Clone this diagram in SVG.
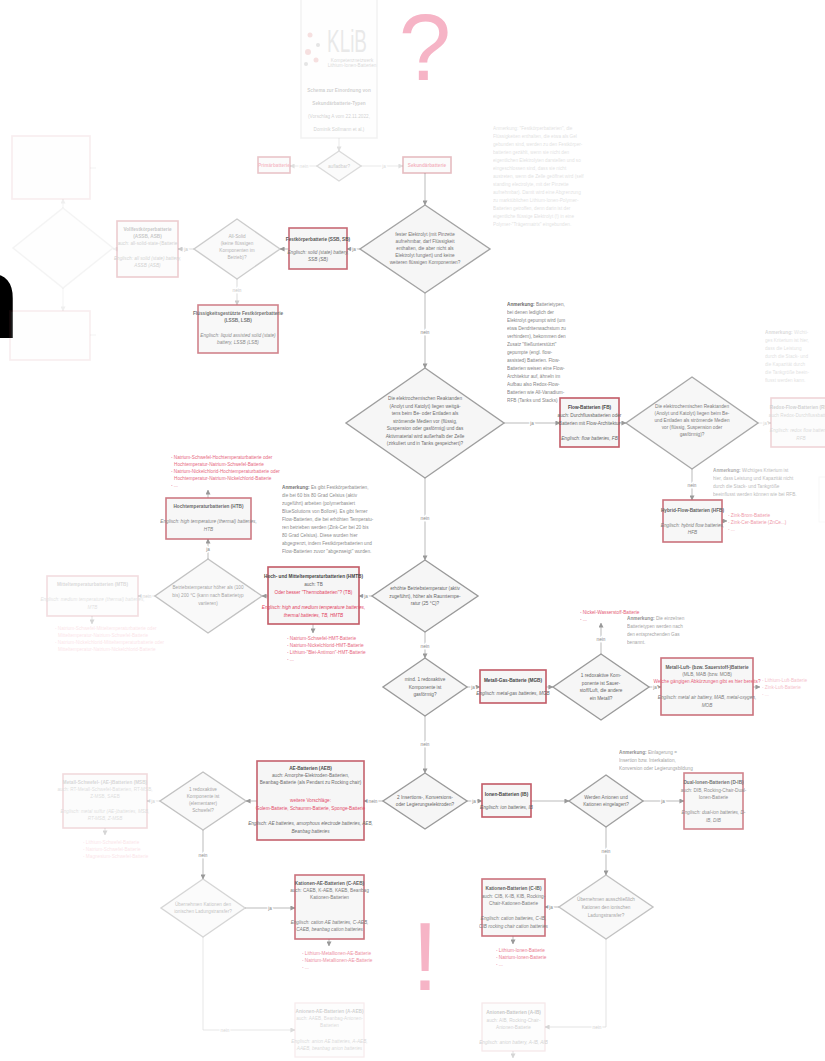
<svg xmlns="http://www.w3.org/2000/svg" width="825" height="1061" viewBox="0 0 825 1061">
<defs>
<marker id="ah" viewBox="0 0 6 6" refX="5.5" refY="3" markerWidth="5" markerHeight="5" orient="auto" markerUnits="userSpaceOnUse">
<path d="M0,0 L6,3 L0,6 z" fill="#999"/>
</marker>
<style>
.bx{fill:#f6f6f6;stroke:#c25a66;stroke-width:1.6}
.bf{fill:#fbfbfb;stroke:#e2b0b6;stroke-width:1.2}
.dm{fill:#f6f6f6;stroke:#9a9a9a;stroke-width:1.4}
.ln{stroke:#aaa;stroke-width:0.8;fill:none}
.t{font-family:"Liberation Sans Narrow","Liberation Sans",sans-serif;font-size:4.7px;fill:#666;text-anchor:middle}
.b{font-weight:bold;fill:#444}
.i{font-style:italic}
.r{fill:#e2415e}
.s{text-anchor:start}
.lab{font-family:"Liberation Sans Narrow","Liberation Sans",sans-serif;font-size:4.7px;fill:#888;text-anchor:middle;stroke:#fff;stroke-width:2.5px;paint-order:stroke}
.big{font-family:"Liberation Sans",sans-serif;fill:#f6b4c6;text-anchor:middle}
</style>
</defs>
<rect width="825" height="1061" fill="#fff"/>

<text id="bigN" x="-52" y="338" font-family="Liberation Sans, sans-serif" font-weight="bold" font-size="118" fill="#000">n</text>
<text id="question" class="big" x="425" y="80" font-size="94">?</text>
<text id="exclaim" class="big" x="425" y="990" font-size="96">!</text>

<g id="connectors">
<g opacity="0.3">
<path class="ln" d="M339,138 V151" marker-end="url(#ah)"/>
<path class="ln" d="M317,166 H290" marker-end="url(#ah)"/>
<path class="ln" d="M361,166 H403" marker-end="url(#ah)"/>
<text class="lab" x="304" y="168">nein</text>
<text class="lab" x="384" y="168">ja</text>
</g>
<path class="ln" d="M425,173 V205" marker-end="url(#ah)"/>
<path class="ln" d="M360,249 H347" marker-end="url(#ah)"/>
<text class="lab" x="354" y="251">ja</text>
<path class="ln" d="M289,249 H280" marker-end="url(#ah)"/>
<g opacity="0.5">
<path class="ln" d="M194,249 H178" marker-end="url(#ah)"/>
<text class="lab" x="186" y="251">ja</text>
<path class="ln" d="M237,279 V305" marker-end="url(#ah)"/>
<text class="lab" x="237" y="292">nein</text>
</g>
<g opacity="0.15">
<path class="ln" d="M117,249 H113" marker-end="url(#ah)"/>
<path class="ln" d="M63,208 V199" marker-end="url(#ah)"/>
<path class="ln" d="M63,288 V311" marker-end="url(#ah)"/>
<path class="ln" d="M90,168 H96"/>
<path class="ln" d="M90,335 H96"/>
</g>
<path class="ln" d="M425,293 V368" marker-end="url(#ah)"/>
<text class="lab" x="425" y="334">nein</text>
<path class="ln" d="M504,423 H560" marker-end="url(#ah)"/>
<text class="lab" x="532" y="425">ja</text>
<path class="ln" d="M619,423 H626" marker-end="url(#ah)"/>
<g opacity="0.35">
<path class="ln" d="M758,423 H771" marker-end="url(#ah)"/>
<text class="lab" x="765" y="425">ja</text>
</g>
<path class="ln" d="M692,469 V500" marker-end="url(#ah)"/>
<text class="lab" x="692" y="487">nein</text>
<path class="ln" d="M722,521 H727" marker-end="url(#ah)"/>
<path class="ln" d="M425,478 V560" marker-end="url(#ah)"/>
<text class="lab" x="425" y="520">nein</text>
<path class="ln" d="M372,596 H359" marker-end="url(#ah)"/>
<text class="lab" x="366" y="598">ja</text>
<path class="ln" d="M313,624 V633" marker-end="url(#ah)"/>
<path class="ln" d="M268,596 H262" marker-end="url(#ah)"/>
<path class="ln" d="M208,559 V539" marker-end="url(#ah)"/>
<text class="lab" x="208" y="551">ja</text>
<path class="ln" d="M208,498 V490" marker-end="url(#ah)"/>
<g opacity="0.4">
<path class="ln" d="M155,596 H138" marker-end="url(#ah)"/>
<text class="lab" x="147" y="598">nein</text>
<path class="ln" d="M92,616 V624" marker-end="url(#ah)"/>
</g>
<path class="ln" d="M425,632 V658" marker-end="url(#ah)"/>
<text class="lab" x="425" y="648">nein</text>
<path class="ln" d="M467,687 H480" marker-end="url(#ah)"/>
<text class="lab" x="473" y="689">ja</text>
<path class="ln" d="M546,687 H553" marker-end="url(#ah)"/>
<path class="ln" d="M601,654 V623" marker-end="url(#ah)"/>
<text class="lab" x="601" y="641">nein</text>
<path class="ln" d="M649,687 H661" marker-end="url(#ah)"/>
<text class="lab" x="655" y="689">ja</text>
<path class="ln" d="M753,687 H760" marker-end="url(#ah)"/>
<path class="ln" d="M425,716 V773" marker-end="url(#ah)"/>
<text class="lab" x="425" y="746">nein</text>
<path class="ln" d="M467,801 H482" marker-end="url(#ah)"/>
<text class="lab" x="474" y="803">ja</text>
<path class="ln" d="M531,801 H569" marker-end="url(#ah)"/>
<path class="ln" d="M643,801 H684" marker-end="url(#ah)"/>
<text class="lab" x="663" y="803">ja</text>
<path class="ln" d="M606,827 V875" marker-end="url(#ah)"/>
<text class="lab" x="606" y="853">nein</text>
<path class="ln" d="M559,907 H545" marker-end="url(#ah)"/>
<text class="lab" x="551" y="909">ja</text>
<path class="ln" d="M513,936 V944" marker-end="url(#ah)"/>
<g opacity="0.4">
<path class="ln" d="M606,939 V1027 H545" marker-end="url(#ah)"/>
<text class="lab" x="597" y="1029">nein</text>
<path class="ln" d="M513,1051 V1058" marker-end="url(#ah)"/>
</g>
<path class="ln" d="M383,801 H364" marker-end="url(#ah)"/>
<text class="lab" x="373" y="803">nein</text>
<path class="ln" d="M257,801 H246" marker-end="url(#ah)"/>
<g opacity="0.4">
<path class="ln" d="M160,801 H147" marker-end="url(#ah)"/>
<text class="lab" x="153" y="803">ja</text>
<path class="ln" d="M105,828 V835" marker-end="url(#ah)"/>
</g>
<path class="ln" d="M203,830 V879" marker-end="url(#ah)"/>
<text class="lab" x="203" y="857">nein</text>
<path class="ln" d="M245,908 H295" marker-end="url(#ah)"/>
<text class="lab" x="270" y="910">ja</text>
<path class="ln" d="M329,939 V946" marker-end="url(#ah)"/>
<g opacity="0.35">
<path class="ln" d="M203,937 V1030 H295" marker-end="url(#ah)"/>
<text class="lab" x="225" y="1032">nein</text>
</g>
</g>

<g id="klib" opacity="0.25">
<rect x="301" y="-5" width="76" height="143" fill="#fdfdfd" stroke="#ccc" stroke-width="1.5"/>
<circle cx="310" cy="35" r="2.5" fill="#d88"/>
<circle cx="318" cy="45" r="2" fill="#999"/>
<circle cx="308" cy="52" r="3" fill="#d88"/>
<circle cx="316" cy="60" r="2.5" fill="#d88"/>
<circle cx="306" cy="64" r="2" fill="#999"/>
<text x="327" y="52" font-family="Liberation Sans, sans-serif" font-size="32" fill="#aaa" textLength="40" lengthAdjust="spacingAndGlyphs">KLiB</text>
<text class="t" x="352" y="62" font-size="3.5">Kompetenznetzwerk</text>
<text class="t" x="352" y="67" font-size="3.5">Lithium-Ionen-Batterien</text>
<text class="t b" font-size="7.5px" x="339"><tspan x="339" y="92">Schema zur Einordnung von</tspan><tspan x="339" y="105">Sekundärbatterie-Typen</tspan><tspan x="339" y="118" font-weight="normal">(Vorschlag A vom 22.11.2022,</tspan><tspan x="339" y="131" font-weight="normal">Dominik Sollmann et al.)</tspan></text>
</g>

<g id="aufladbar" opacity="0.35">
<polygon class="dm" points="339,151 361,166 339,181 317,166"/>
<text class="t" x="339" y="168">aufladbar?</text>
</g>
<g id="primaer" opacity="0.35">
<rect class="bx" x="258" y="157" width="32" height="16"/>
<text class="t b r" x="274" y="167">Primärbatterie</text>
</g>
<g id="sekundaer" opacity="0.4">
<rect class="bx" x="403" y="157" width="48" height="16"/>
<text class="t b r" x="427" y="167">Sekundärbatterie</text>
</g>

<g id="anm-top" opacity="0.2">
<text class="t s" x="493"><tspan x="493" y="130">Anmerkung: "Festkörperbatterien", die</tspan><tspan x="493" y="138">Flüssigkeiten enthalten, die etwa als Gel</tspan><tspan x="493" y="146">gebunden sind, werden zu den Festkörper-</tspan><tspan x="493" y="154">batterien gezählt, wenn sie nicht den</tspan><tspan x="493" y="162">eigentlichen Elektrolyten darstellen und so</tspan><tspan x="493" y="170">eingeschlossen sind, dass sie nicht</tspan><tspan x="493" y="178">austreten, wenn die Zelle geöffnet wird (self</tspan><tspan x="493" y="186">standing electrolyte, mit der Pinzette</tspan><tspan x="493" y="194">aufnehmbar). Damit wird eine Abgrenzung</tspan><tspan x="493" y="202">zu marktüblichen Lithium-Ionen-Polymer-</tspan><tspan x="493" y="210">Batterien getroffen, denn darin ist der</tspan><tspan x="493" y="218">eigentliche flüssige Elektrolyt (!) in eine</tspan><tspan x="493" y="226">Polymer-"Trägermatrix" eingebunden.</tspan></text>
</g>

<g id="d-fest" opacity="0.9">
<polygon class="dm" points="425,205 490,249 425,293 360,249"/>
<text class="t"><tspan x="425" y="236">fester Elektrolyt (mit Pinzette</tspan><tspan x="425" y="243">aufnehmbar, darf Flüssigkeit</tspan><tspan x="425" y="250">enthalten, die aber nicht als</tspan><tspan x="425" y="257">Elektrolyt fungiert) und keine</tspan><tspan x="425" y="264">weiteren flüssigen Komponenten?</tspan></text>
</g>

<g id="festkoerper" opacity="0.9">
<rect class="bx" x="289" y="228" width="58" height="41"/>
<text class="t"><tspan class="b" x="318" y="241">Festkörperbatterie (SSB, SB)</tspan><tspan class="i" x="318" y="254">Englisch: solid (state) battery,</tspan><tspan class="i" x="318" y="261">SSB (SB)</tspan></text>
</g>

<g id="d-allsolid" opacity="0.5">
<polygon class="dm" points="237,219 280,249 237,279 194,249"/>
<text class="t"><tspan x="237" y="238">All-Solid</tspan><tspan x="237" y="245">(keine flüssigen</tspan><tspan x="237" y="252">Komponenten im</tspan><tspan x="237" y="259">Betrieb)?</tspan></text>
</g>

<g id="fluessig" opacity="0.75">
<rect class="bx" x="198" y="305" width="80" height="48"/>
<text class="t"><tspan class="b" x="238" y="315">Flüssigkeitsgestützte Festkörperbatterie</tspan><tspan class="b" x="238" y="322">(LSSB, LSB)</tspan><tspan class="i" x="238" y="337">Englisch: liquid assisted solid (state)</tspan><tspan class="i" x="238" y="344">battery, LSSB (LSB)</tspan></text>
</g>

<g id="vollfest" opacity="0.3">
<rect class="bx" x="117" y="221" width="61" height="56"/>
<text class="t"><tspan class="b" x="147.5" y="231">Vollfestkörperbatterie</tspan><tspan class="b" x="147.5" y="238">(ASSB, ASB)</tspan><tspan x="147.5" y="245">auch: all-solid-state-(Batterie</tspan><tspan class="i" x="147.5" y="260">Englisch: all solid (state) battery,</tspan><tspan class="i" x="147.5" y="267">ASSB (ASB)</tspan></text>
</g>

<g id="left-top-faded" opacity="0.1">
<rect class="bx" x="12" y="136" width="78" height="63"/>
<polygon class="dm" points="63,208 113,248 63,288 13,248"/>
<rect class="bx" x="10" y="311" width="80" height="49"/>
</g>

<g id="d-flow" opacity="0.95">
<polygon class="dm" points="425,368 504,423 425,478 346,423"/>
<text class="t"><tspan x="425" y="400">Die elektrochemischen Reaktanden</tspan><tspan x="425" y="407.5">(Anolyt und Katolyt) liegen weitgä-</tspan><tspan x="425" y="415">tens beim Be- oder Entladen als</tspan><tspan x="425" y="422.5">strömende Medien vor (flüssig,</tspan><tspan x="425" y="430">Suspension oder gasförmig) und das</tspan><tspan x="425" y="437.5">Aktivmaterial wird außerhalb der Zelle</tspan><tspan x="425" y="445">(zirkuliert und in Tanks gespeichert)?</tspan></text>
</g>

<g id="anm-flow" opacity="0.8">
<text class="t s"><tspan x="507" y="306"><tspan class="b">Anmerkung:</tspan> Batterietypen,</tspan><tspan x="507" y="314">bei denen lediglich der</tspan><tspan x="507" y="322">Elektrolyt gepumpt wird (um</tspan><tspan x="507" y="330">etwa Dendritenwachstum zu</tspan><tspan x="507" y="338">verhindern), bekommen den</tspan><tspan x="507" y="346">Zusatz "fließunterstützt"</tspan><tspan x="507" y="354">gepumpte (engl. flow-</tspan><tspan x="507" y="362">assisted) Batterien. Flow-</tspan><tspan x="507" y="370">Batterien weisen eine Flow-</tspan><tspan x="507" y="378">Architektur auf, ähneln im</tspan><tspan x="507" y="386">Aufbau also Redox-Flow-</tspan><tspan x="507" y="394">Batterien wie All-Vanadium-</tspan><tspan x="507" y="402">RFB (Tanks und Stacks)</tspan></text>
</g>

<g id="flowbat">
<rect class="bx" x="560" y="398" width="59" height="49"/>
<text class="t"><tspan class="b" x="589.5" y="409">Flow-Batterien (FB)</tspan><tspan x="589.5" y="417">auch: Durchflussbatterien oder</tspan><tspan x="589.5" y="425">Batterien mit Flow-Architektur</tspan><tspan class="i" x="589.5" y="440">Englisch: flow batteries, FB</tspan></text>
</g>

<g id="d-redox" opacity="0.85">
<polygon class="dm" points="692,377 758,423 692,469 626,423"/>
<text class="t"><tspan x="692" y="408">Die elektrochemischen Reaktanden</tspan><tspan x="692" y="415">(Anolyt und Katolyt) liegen beim Be-</tspan><tspan x="692" y="422">und Entladen als strömende Medien</tspan><tspan x="692" y="429">vor (flüssig, Suspension oder</tspan><tspan x="692" y="436">gasförmig)?</tspan></text>
</g>

<g id="redoxflow" opacity="0.25">
<rect class="bx" x="771" y="398" width="60" height="49"/>
<text class="t"><tspan class="b" x="801" y="409">Redox-Flow-Batterien (RFB)</tspan><tspan x="801" y="417">auch Redox-Durchflussbatterie</tspan><tspan class="i" x="801" y="432">Englisch: redox flow batteries,</tspan><tspan class="i" x="801" y="440">RFB</tspan></text>
</g>
<g id="anm-redox" opacity="0.2">
<text class="t s"><tspan x="765" y="334"><tspan class="b">Anmerkung:</tspan> Wichti-</tspan><tspan x="765" y="342">ges Kriterium ist hier,</tspan><tspan x="765" y="350">dass die Leistung</tspan><tspan x="765" y="358">durch die Stack- und</tspan><tspan x="765" y="366">die Kapazität durch</tspan><tspan x="765" y="374">die Tankgröße beein-</tspan><tspan x="765" y="382">flusst werden kann.</tspan></text>
<rect x="819" y="477" width="20" height="45" fill="none" stroke="#ddd"/>
</g>

<g id="anm-hybrid" opacity="0.45">
<text class="t s"><tspan x="713" y="472"><tspan class="b">Anmerkung:</tspan> Wichtiges Kriterium ist</tspan><tspan x="713" y="480">hier, dass Leistung und Kapazität nicht</tspan><tspan x="713" y="488">durch die Stack- und Tankgröße</tspan><tspan x="713" y="496">beeinflusst werden können wie bei RFB.</tspan></text>
</g>
<g id="hybrid" opacity="0.85">
<rect class="bx" x="663" y="500" width="59" height="42"/>
<text class="t"><tspan class="b" x="692.5" y="512">Hybrid-Flow-Batterien (HFB)</tspan><tspan class="i" x="692.5" y="527">Englisch: hybrid flow batteries,</tspan><tspan class="i" x="692.5" y="534">HFB</tspan></text>
</g>
<g id="list-hybrid" opacity="0.55">
<text class="t s r"><tspan x="728" y="517">- Zink-Brom-Batterie</tspan><tspan x="728" y="524">- Zink-Cer-Batterie (ZnCe...)</tspan><tspan x="728" y="531">- ...</tspan></text>
</g>

<g id="anm-hmtb" opacity="0.75">
<text class="t s"><tspan x="282" y="489"><tspan class="b">Anmerkung:</tspan> Es gibt Festkörperbatterien,</tspan><tspan x="282" y="497">die bei 60 bis 80 Grad Celsius (aktiv</tspan><tspan x="282" y="505">zugeführt) arbeiten (polymerbasiert</tspan><tspan x="282" y="513">BlueSolutions von Bolloré). Es gibt ferner</tspan><tspan x="282" y="521">Flow-Batterien, die bei erhöhten Temperatu-</tspan><tspan x="282" y="529">ren betrieben werden (Zink-Cer bei 20 bis</tspan><tspan x="282" y="537">80 Grad Celsius). Diese wurden hier</tspan><tspan x="282" y="545">abgegrenzt, indem Festkörperbatterien und</tspan><tspan x="282" y="553">Flow-Batterien zuvor "abgezweigt" wurden.</tspan></text>
</g>

<g id="d-erhoeht">
<polygon class="dm" points="425,560 478,596 425,632 372,596"/>
<text class="t"><tspan x="425" y="590">erhöhte Betriebstemperatur (aktiv</tspan><tspan x="425" y="597.5">zugeführt), höher als Raumtempe-</tspan><tspan x="425" y="605">ratur (25 °C)?</tspan></text>
</g>

<g id="hmtb">
<rect class="bx" x="268" y="567" width="91" height="57"/>
<text class="t"><tspan class="b" x="313.5" y="578">Hoch- und Mitteltemperaturbatterien (HMTB)</tspan><tspan x="313.5" y="586">auch: TB</tspan><tspan class="r" x="313.5" y="594">Oder besser "Thermobatterien"? (TB)</tspan><tspan class="r i" x="313.5" y="609">Englisch: high and medium temperature batteries,</tspan><tspan class="r i" x="313.5" y="617">thermal batteries, TB, HMTB</tspan></text>
</g>
<g id="list-hmtb" opacity="0.8">
<text class="t s r"><tspan x="287" y="640">- Natrium-Schwefel-HMT-Batterie</tspan><tspan x="287" y="647">- Natrium-Nickelchlorid-HMT-Batterie</tspan><tspan x="287" y="654">- Lithium-"Blei-Antimon"-HMT-Batterie</tspan><tspan x="287" y="661">- ...</tspan></text>
</g>

<g id="d-betrieb" opacity="0.6">
<polygon class="dm" points="208,559 262,596 208,633 155,596"/>
<text class="t"><tspan x="208" y="589">Betriebstemperatur höher als (100</tspan><tspan x="208" y="597">bis) 200 °C (kann nach Batterietyp</tspan><tspan x="208" y="605">variieren)</tspan></text>
</g>

<g id="htb" opacity="0.8">
<rect class="bx" x="166" y="498" width="85" height="41"/>
<text class="t"><tspan class="b" x="208.5" y="508">Hochtemperaturbatterien (HTB)</tspan><tspan class="i" x="208.5" y="523">Englisch: high temperature (thermal) batteries,</tspan><tspan class="i" x="208.5" y="531">HTB</tspan></text>
</g>
<g id="list-htb" opacity="0.8">
<text class="t s r"><tspan x="171" y="459">- Natrium-Schwefel-Hochtemperaturbatterie oder</tspan><tspan x="174" y="466">Hochtemperatur-Natrium-Schwefel-Batterie</tspan><tspan x="171" y="473">- Natrium-Nickelchlorid-Hochtemperaturbatterie oder</tspan><tspan x="174" y="480">Hochtemperatur-Natrium-Nickelchlorid-Batterie</tspan><tspan x="171" y="487">- ...</tspan></text>
</g>

<g id="mtb" opacity="0.2">
<rect class="bx" x="47" y="576" width="91" height="40"/>
<text class="t"><tspan class="b" x="92.5" y="586">Mitteltemperaturbatterien (MTB)</tspan><tspan class="i" x="92.5" y="601">Englisch: medium temperature (thermal) batteries,</tspan><tspan class="i" x="92.5" y="609">MTB</tspan></text>
</g>
<g id="list-mtb" opacity="0.15">
<text class="t s r"><tspan x="55" y="630">- Natrium-Schwefel-Mitteltemperaturbatterie oder</tspan><tspan x="58" y="637">Mitteltemperatur-Natrium-Schwefel-Batterie</tspan><tspan x="55" y="644">- Natrium-Nickelchlorid-Mitteltemperaturbatterie oder</tspan><tspan x="58" y="651">Mitteltemperatur-Natrium-Nickelchlorid-Batterie</tspan></text>
</g>

<g id="d-gas">
<polygon class="dm" points="425,658 467,687 425,716 383,687"/>
<text class="t"><tspan x="425" y="681">mind. 1 redoxaktive</tspan><tspan x="425" y="688.5">Komponente ist</tspan><tspan x="425" y="696">gasförmig?</tspan></text>
</g>

<g id="mgb">
<rect class="bx" x="480" y="670" width="66" height="33"/>
<text class="t"><tspan class="b" x="513" y="682">Metall-Gas-Batterie (MGB)</tspan><tspan class="i" x="513" y="695">Englisch: metal-gas batteries, MGB</tspan></text>
</g>

<g id="d-luft">
<polygon class="dm" points="601,654 649,687 601,720 553,687"/>
<text class="t"><tspan x="601" y="677">1 redoxaktive Kom-</tspan><tspan x="601" y="684.5">ponente ist Sauer-</tspan><tspan x="601" y="692">stoff/Luft, die andere</tspan><tspan x="601" y="699.5">ein Metall?</tspan></text>
</g>
<g id="list-gas" opacity="0.85">
<text class="t s r"><tspan x="580" y="614">- Nickel-Wasserstoff-Batterie</tspan><tspan x="580" y="621">- ...</tspan></text>
</g>
<g id="anm-gas" opacity="0.6">
<text class="t s"><tspan x="627" y="620"><tspan class="b">Anmerkung:</tspan> Die einzelnen</tspan><tspan x="627" y="628">Batterietypen werden nach</tspan><tspan x="627" y="636">den entsprechenden Gas</tspan><tspan x="627" y="644">benannt.</tspan></text>
</g>

<g id="mlb" opacity="0.85">
<rect class="bx" x="661" y="658" width="92" height="57"/>
<text class="t"><tspan class="b" x="707" y="669">Metall-Luft- (bzw. Sauerstoff-)Batterie</tspan><tspan x="707" y="676">(MLB, MAB (bzw. MOB)</tspan><tspan class="r" x="707" y="683">Welche gängigen Abkürzungen gibt es hier bereits?</tspan><tspan class="i" x="707" y="699">Englisch: metal air battery, MAB, metal-oxygen,</tspan><tspan class="i" x="707" y="707">MOB</tspan></text>
</g>
<g id="list-mlb" opacity="0.35">
<text class="t s r"><tspan x="762" y="682">- Lithium-Luft-Batterie</tspan><tspan x="762" y="689">- Zink-Luft-Batterie</tspan><tspan x="762" y="696">- ...</tspan></text>
</g>

<g id="d-ins">
<polygon class="dm" points="425,773 467,801 425,829 383,801"/>
<text class="t"><tspan x="425" y="799">2 Insertions-, Konversions-</tspan><tspan x="425" y="806">oder Legierungselektroden?</tspan></text>
</g>

<g id="ionen">
<rect class="bx" x="482" y="784" width="49" height="33"/>
<text class="t"><tspan class="b" x="506.5" y="796">Ionen-Batterien (IB)</tspan><tspan class="i" x="506.5" y="809">Englisch: ion batteries, IB</tspan></text>
</g>

<g id="d-werden" opacity="0.95">
<polygon class="dm" points="606,775 643,801 606,827 569,801"/>
<text class="t"><tspan x="606" y="799">Werden Anionen und</tspan><tspan x="606" y="806">Kationen eingelagert?</tspan></text>
</g>
<g id="anm-ein" opacity="0.6">
<text class="t s"><tspan x="619" y="754"><tspan class="b">Anmerkung:</tspan> Einlagerung =</tspan><tspan x="619" y="762">Insertion bzw. Interkalation,</tspan><tspan x="619" y="770">Konversion oder Legierungsbildung</tspan></text>
</g>

<g id="dual" opacity="0.75">
<rect class="bx" x="684" y="773" width="59" height="56"/>
<text class="t"><tspan class="b" x="713.5" y="784">Dual-Ionen-Batterien (D-IB)</tspan><tspan x="713.5" y="792">auch: DIB, Rocking-Chair-Dual-</tspan><tspan x="713.5" y="799">Ionen-Batterie</tspan><tspan class="i" x="713.5" y="814">Englisch: dual-ion batteries, D-</tspan><tspan class="i" x="713.5" y="822">IB, DIB</tspan></text>
</g>

<g id="d-kat" opacity="0.6">
<polygon class="dm" points="606,875 653,907 606,939 559,907"/>
<text class="t"><tspan x="606" y="901">Übernehmen ausschließlich</tspan><tspan x="606" y="909">Kationen den ionischen</tspan><tspan x="606" y="917">Ladungstransfer?</tspan></text>
</g>

<g id="cib" opacity="0.85">
<rect class="bx" x="482" y="879" width="63" height="57"/>
<text class="t"><tspan class="b" x="513.5" y="890">Kationen-Batterien (C-IB)</tspan><tspan x="513.5" y="898">auch: CIB, K-IB, KIB, Rocking-</tspan><tspan x="513.5" y="905">Chair-Kationen-Batterie</tspan><tspan class="i" x="513.5" y="920">Englisch: cation batteries, C-IB,</tspan><tspan class="i" x="513.5" y="928">CIB rocking chair cation batteries</tspan></text>
</g>
<g id="list-cib" opacity="0.7">
<text class="t s r"><tspan x="496" y="952">- Lithium-Ionen-Batterie</tspan><tspan x="496" y="959">- Natrium-Ionen-Batterie</tspan><tspan x="496" y="966">- ...</tspan></text>
</g>

<g id="aib" opacity="0.3">
<rect class="bf" x="482" y="1003" width="63" height="48"/>
<text class="t"><tspan class="b" x="513.5" y="1014">Anionen-Batterien (A-IB)</tspan><tspan x="513.5" y="1022">auch: AIB, Rocking-Chair-</tspan><tspan x="513.5" y="1029">Anionen-Batterie</tspan><tspan class="i" x="513.5" y="1044">Englisch: anion battery, A-IB, AIB</tspan></text>
</g>

<g id="aeb" opacity="0.95">
<rect class="bx" x="257" y="761" width="107" height="79"/>
<text class="t"><tspan class="b" x="310.5" y="770">AE-Batterien (AEB)</tspan><tspan x="310.5" y="777">auch: Amorphe-Elektroden-Batterien,</tspan><tspan x="310.5" y="784">Beanbag-Batterie (als Pendant zu Rocking chair)</tspan><tspan class="r" x="310.5" y="802">weitere Vorschläge:</tspan><tspan class="r" x="310.5" y="810">Golem-Batterie, Schaumm-Batterie, Sponge-Batterie</tspan><tspan class="i" x="310.5" y="825">Englisch: AE batteries, amorphous electrode batteries, AEB,</tspan><tspan class="i" x="310.5" y="833">Beanbag batteries</tspan></text>
</g>

<g id="d-schwefel" opacity="0.6">
<polygon class="dm" points="203,772 246,801 203,830 160,801"/>
<text class="t"><tspan x="203" y="791">1 redoxaktive</tspan><tspan x="203" y="798">Komponente ist</tspan><tspan x="203" y="805">(elementarer)</tspan><tspan x="203" y="812">Schwefel?</tspan></text>
</g>

<g id="msb" opacity="0.22">
<rect class="bx" x="63" y="774" width="84" height="54"/>
<text class="t"><tspan class="b" x="105" y="784">Metall-Schwefel- (AE-)Batterien (MSB)</tspan><tspan x="105" y="791">auch: RT-Metall-Schwefel-Batterien, RT-MSB,</tspan><tspan x="105" y="798">Z-MSB, SAEB</tspan><tspan class="i" x="105" y="813">Englisch: metal sulfur (AE-)batteries, MSB,</tspan><tspan class="i" x="105" y="820">RT-MSB, Z-MSB</tspan></text>
</g>
<g id="list-msb" opacity="0.15">
<text class="t s r"><tspan x="83" y="844">- Lithium-Schwefel-Batterie</tspan><tspan x="83" y="851">- Natrium-Schwefel-Batterie</tspan><tspan x="83" y="858">- Magnesium-Schwefel-Batterie</tspan></text>
</g>

<g id="d-katae" opacity="0.4">
<polygon class="dm" points="203,879 245,908 203,937 161,908"/>
<text class="t"><tspan x="203" y="906">Übernehmen Kationen den</tspan><tspan x="203" y="913">ionischen Ladungstransfer?</tspan></text>
</g>

<g id="caeb" opacity="0.85">
<rect class="bx" x="295" y="875" width="69" height="64"/>
<text class="t"><tspan class="b" x="329.5" y="885">Kationen-AE-Batterien (C-AEB)</tspan><tspan x="329.5" y="892">auch: CAEB, K-AEB, KAEB, Beanbag</tspan><tspan x="329.5" y="899">Kationen-Batterien</tspan><tspan class="i" x="329.5" y="924">Englisch: cation AE batteries, C-AEB,</tspan><tspan class="i" x="329.5" y="931">CAEB, beanbag cation batteries</tspan></text>
</g>
<g id="list-caeb" opacity="0.6">
<text class="t s r"><tspan x="302" y="955">- Lithium-Metallionen-AE-Batterie</tspan><tspan x="302" y="962">- Natrium-Metallionen-AE-Batterie</tspan><tspan x="302" y="969">- ...</tspan></text>
</g>

<g id="aaeb" opacity="0.25">
<rect class="bf" x="295" y="1003" width="69" height="54"/>
<text class="t"><tspan class="b" x="329.5" y="1013">Anionen-AE-Batterien (A-AEB)</tspan><tspan x="329.5" y="1020">auch: AAEB, Beanbag-Anionen-</tspan><tspan x="329.5" y="1027">Batterien</tspan><tspan class="i" x="329.5" y="1043">Englisch: anion AE batteries, A-AEB,</tspan><tspan class="i" x="329.5" y="1050">AAEB, beanbag anion batteries</tspan></text>
</g>
</svg>
